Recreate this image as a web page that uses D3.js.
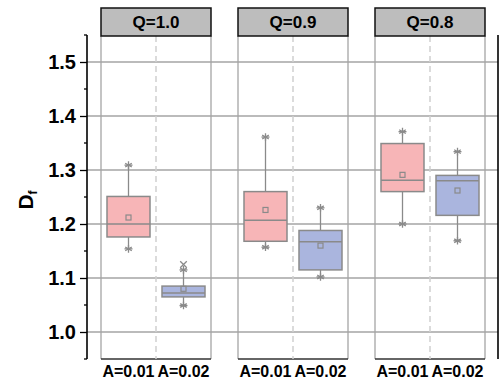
<!DOCTYPE html>
<html>
<head>
<meta charset="utf-8">
<script src="https://cdn.jsdelivr.net/npm/d3@7"></script>
<style>
  body { margin: 0; background: #fff; }
  text { font-family: "Liberation Sans", Arial, sans-serif; font-weight: bold; }
</style>
</head>
<body>
<svg width="500" height="381"></svg>
<script>
const panels = ["Q=1.0", "Q=0.9", "Q=0.8"];
const groups = ["A=0.01", "A=0.02"];
const yTicks = [1.0, 1.1, 1.2, 1.3, 1.4, 1.5];

// one row per panel, one entry per group
const q1 = [[1.176, 1.065], [1.168, 1.115], [1.260, 1.216]];
const median = [[1.200, 1.072], [1.207, 1.167], [1.281, 1.280]];
const q3 = [[1.251, 1.085], [1.260, 1.188], [1.349, 1.290]];
const mean = [[1.212, 1.080], [1.226, 1.160], [1.291, 1.262]];
const whiskerLo = [[1.154, 1.049], [1.157, 1.102], [1.200, 1.169]];
const whiskerHi = [[1.309, 1.115], [1.361, 1.230], [1.371, 1.334]];
const extraMarks = [[[], [1.125]], [[], []], [[], []]];

const colors = ["#f7b5b7", "#aab5de"];
const gray = "#8a8a8a";

const svg = d3.select("svg");

const y = d3.scaleLinear().domain([0.95, 1.55]).range([359, 35]);
const xPanel = d3.scaleBand().domain(panels).range([101, 485]).paddingInner(27 / 137);
const xGroup = d3.scaleBand().domain(groups).range([0, xPanel.bandwidth()]);
const boxW = 43;

// gridlines across the whole plot
svg.append("g")
  .selectAll("line")
  .data(yTicks)
  .enter().append("line")
  .attr("x1", 87).attr("x2", 498)
  .attr("y1", d => y(d)).attr("y2", d => y(d))
  .attr("stroke", "#a5a5a5")
  .attr("stroke-width", 1.3);

// left axis
const yAxis = d3.axisLeft(y).tickValues(yTicks).tickFormat(d3.format(".1f")).tickSize(7).tickPadding(4);
const ax = svg.append("g").attr("transform", "translate(87,0)").call(yAxis);
ax.select(".domain").remove();
ax.selectAll(".tick line").attr("stroke", "#000").attr("stroke-width", 1.3);
ax.selectAll(".tick text").attr("font-size", 20).attr("fill", "#000")
  .style("font-family", "'Liberation Sans', Arial, sans-serif").style("font-weight", "bold");
const minor = d3.range(0.95, 1.56, 0.1);
ax.selectAll(".minor")
  .data(minor)
  .enter().append("line")
  .attr("x1", -3).attr("x2", 0)
  .attr("y1", d => y(d)).attr("y2", d => y(d))
  .attr("stroke", "#000").attr("stroke-width", 1.3);
ax.append("line").attr("x1", 0).attr("x2", 0).attr("y1", 35).attr("y2", 359)
  .attr("stroke", "#000").attr("stroke-width", 1.6);

// right axis line
svg.append("line").attr("x1", 498).attr("x2", 498).attr("y1", 35).attr("y2", 359)
  .attr("stroke", "#000").attr("stroke-width", 1.6);

// y label
svg.append("text")
  .attr("transform", "translate(33,200) rotate(-90)")
  .attr("text-anchor", "middle")
  .attr("font-size", 21)
  .text("D")
  .append("tspan")
  .attr("font-size", 12)
  .attr("dy", 4)
  .text("f");

panels.forEach((p, i) => {
  const g = svg.append("g").attr("transform", `translate(${xPanel(p)},0)`);
  const w = xPanel.bandwidth();

  // panel frame
  g.append("line").attr("x1", 0).attr("x2", 0).attr("y1", 36).attr("y2", 359).attr("stroke", "#a5a5a5").attr("stroke-width", 1.3);
  g.append("line").attr("x1", w).attr("x2", w).attr("y1", 36).attr("y2", 359).attr("stroke", "#a5a5a5").attr("stroke-width", 1.3);
  g.append("line").attr("x1", 0).attr("x2", w).attr("y1", 359).attr("y2", 359).attr("stroke", "#333").attr("stroke-width", 1.3);
  g.append("line").attr("x1", w / 2).attr("x2", w / 2).attr("y1", 36).attr("y2", 359)
    .attr("stroke", "#cfcfcf").attr("stroke-width", 1.5).attr("stroke-dasharray", "6,4");

  // header strip
  g.append("rect").attr("x", 0).attr("y", 8).attr("width", w).attr("height", 28)
    .attr("fill", "#bdbdbd").attr("stroke", "#111").attr("stroke-width", 1.5);
  g.append("text").attr("x", w / 2).attr("y", 28).attr("text-anchor", "middle")
    .attr("font-size", 17).text(p);

  groups.forEach((a, j) => {
    const cx = xGroup(a) + xGroup.bandwidth() / 2;

    // x label
    g.append("text").attr("x", cx).attr("y", 377).attr("text-anchor", "middle")
      .attr("font-size", 16).text(a);

    // whiskers
    g.append("line").attr("x1", cx).attr("x2", cx).attr("y1", y(q3[i][j])).attr("y2", y(whiskerHi[i][j]))
      .attr("stroke", gray).attr("stroke-width", 1.3);
    g.append("line").attr("x1", cx).attr("x2", cx).attr("y1", y(q1[i][j])).attr("y2", y(whiskerLo[i][j]))
      .attr("stroke", gray).attr("stroke-width", 1.3);
    [whiskerLo[i][j], whiskerHi[i][j]].forEach(v => {
      g.append("line").attr("x1", cx - 4).attr("x2", cx + 4).attr("y1", y(v)).attr("y2", y(v))
        .attr("stroke", gray).attr("stroke-width", 1.3);
    });

    // box
    g.append("rect")
      .attr("x", cx - boxW / 2).attr("width", boxW)
      .attr("y", y(q3[i][j])).attr("height", y(q1[i][j]) - y(q3[i][j]))
      .attr("fill", colors[j]).attr("stroke", gray).attr("stroke-width", 1.5);
    g.append("line").attr("x1", cx - boxW / 2).attr("x2", cx + boxW / 2)
      .attr("y1", y(median[i][j])).attr("y2", y(median[i][j]))
      .attr("stroke", gray).attr("stroke-width", 1.5);

    // mean
    g.append("rect").attr("x", cx - 2.5).attr("y", y(mean[i][j]) - 2.5).attr("width", 5).attr("height", 5)
      .attr("fill", "none").attr("stroke", gray).attr("stroke-width", 1.2);

    // min / max markers
    [whiskerLo[i][j], whiskerHi[i][j]].forEach(v => {
      g.append("path").attr("transform", `translate(${cx},${y(v)})`)
        .attr("d", d3.symbol(d3.symbolAsterisk, 40)())
        .attr("fill", "none").attr("stroke", gray).attr("stroke-width", 1.3);
    });
    extraMarks[i][j].forEach(v => {
      g.append("path").attr("transform", `translate(${cx},${y(v)})`)
        .attr("d", d3.symbol(d3.symbolTimes, 30)())
        .attr("fill", "none").attr("stroke", gray).attr("stroke-width", 1.3);
    });
  });
});
</script>
</body>
</html>
